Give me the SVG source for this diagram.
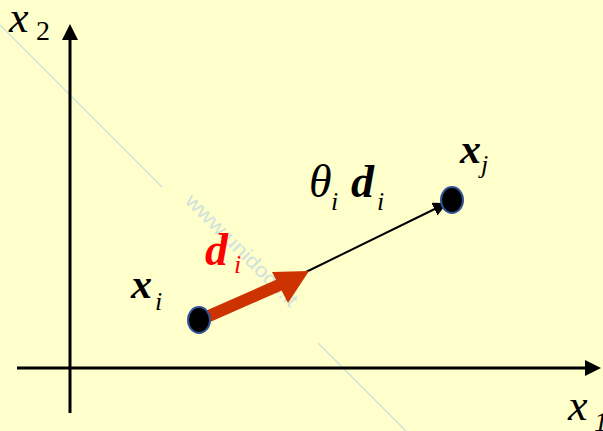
<svg xmlns="http://www.w3.org/2000/svg" width="603" height="431" viewBox="0 0 603 431">
<defs>
<style>
text{font-family:'Liberation Serif','DejaVu Serif','Times New Roman',serif}
.m{font-style:italic}
.b{font-weight:bold}
.axis{stroke:#000;stroke-width:3;fill:none}
.pt{fill:#000;stroke:#2F5597;stroke-width:2}
.wm{stroke:#cfe2dc;stroke-width:1.5;fill:none}
</style>
<marker id="ah2" markerWidth="8" markerHeight="8" refX="7" refY="3.5" orient="auto" markerUnits="strokeWidth"><path d="M0,0 L7,3.5 L0,7 Z" fill="#000"/></marker>
</defs>
<rect width="603" height="431" fill="#FFFFCC"/>
<g id="watermark">
<path class="wm" d="M0,25 L162,187 M318,343 L406,431"/>
<text x="0" y="0" transform="translate(184,202) rotate(45)" style="font-family:'Liberation Sans',Arial,sans-serif" font-size="20" fill="#cfe2dc" textLength="150" lengthAdjust="spacingAndGlyphs">www.unidocs.it</text>
</g>
<g id="connectors">
<line class="axis" x1="70" y1="413" x2="70" y2="40"/>
<path d="M62,40 L70,24 L78,40 Z" fill="#000"/>
<line class="axis" x1="17" y1="368" x2="586" y2="368"/>
<path d="M585,360 L601,368 L585,376 Z" fill="#000"/>
<line x1="306" y1="272" x2="447" y2="203" stroke="#000" stroke-width="2" marker-end="url(#ah2)"/>
<g id="d-arrow">
<line x1="202" y1="319" x2="286" y2="282" stroke="#CC3300" stroke-width="12"/>
<path d="M272,272 L309,271 L288,303 Z" fill="#CC3300"/>
</g>
</g>
<g id="xi">
<ellipse class="pt" cx="199" cy="320" rx="11" ry="13"/>
<text class="m b" x="131" y="298" font-size="42">x</text>
<text class="m" x="155" y="310" font-size="26">i</text>
</g>
<g id="xj">
<ellipse class="pt" cx="452" cy="200" rx="11" ry="13"/>
<text class="m b" x="460" y="163" font-size="42">x</text>
<text class="m" x="481" y="173" font-size="26">j</text>
</g>
<g id="label-di">
<text class="m b" x="205" y="265" font-size="46" fill="#FF0000">d</text>
<text class="m" x="234" y="273" font-size="26" fill="#FF0000">i</text>
</g>
<g id="label-theta">
<text class="m" x="309" y="197" font-size="46">θ</text>
<text class="m" x="331" y="210" font-size="26">i</text>
<text class="m b" x="351" y="197" font-size="46">d</text>
<text class="m" x="377" y="210" font-size="26">i</text>
</g>
<g id="x2-label">
<text class="m" x="9" y="32" font-size="44">x</text>
<text x="36" y="40" font-size="28">2</text>
</g>
<g id="x1-label">
<text class="m" x="568" y="420" font-size="44">x</text>
<text class="m" x="594" y="431" font-size="28">1</text>
</g>
</svg>
